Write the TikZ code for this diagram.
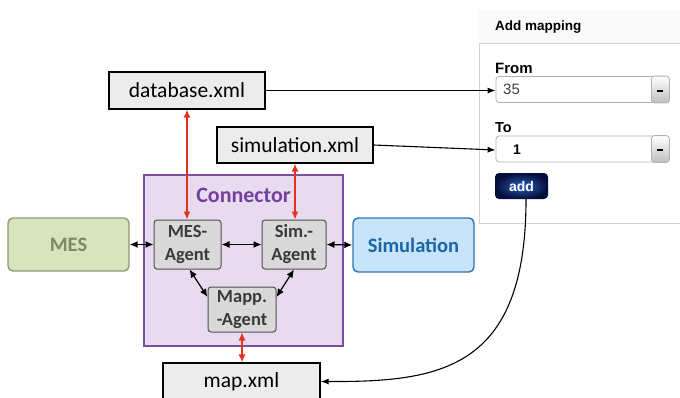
\documentclass[tikz,border=0pt]{standalone}
\usepackage{fontspec}
\setmainfont{Carlito}
\newfontfamily\uifont{Liberation Sans}
\usetikzlibrary{arrows.meta}
\definecolor{xmlfill}{HTML}{ECECEC}
\definecolor{connfill}{HTML}{E8DBF0}
\definecolor{conndraw}{HTML}{7D4E9F}
\definecolor{conntext}{HTML}{7440A0}
\definecolor{agentfill}{HTML}{D9D9D9}
\definecolor{agentdraw}{HTML}{505050}
\definecolor{agenttext}{HTML}{3A3A3A}
\definecolor{mesfill}{HTML}{D7E4BD}
\definecolor{mesdraw}{HTML}{8D9B70}
\definecolor{mestext}{HTML}{7A8A62}
\definecolor{simfill}{HTML}{C7E4F8}
\definecolor{simdraw}{HTML}{2E75B6}
\definecolor{simtext}{HTML}{1B66A8}
\definecolor{linkred}{HTML}{E5321F}
\definecolor{panelgray}{HTML}{D2D2D2}
\definecolor{boxgray}{HTML}{B0B0B0}
\definecolor{addlight}{HTML}{2B5FB8}
\definecolor{adddark}{HTML}{040E3A}
\tikzset{
  xmlfile/.style={draw=black, line width=1.3pt, fill=xmlfill, inner sep=0pt, minimum width=156pt, minimum height=37pt, font=\fontsize{21.5}{24}\selectfont},
  agent/.style={draw=agentdraw, line width=1pt, fill=agentfill, rounded corners=3pt, inner sep=0pt, align=center, text=agenttext, font=\bfseries\fontsize{18.5}{23}\selectfont},
  system/.style={line width=1.4pt, rounded corners=5pt, inner sep=0pt, minimum width=121pt, minimum height=54pt, font=\bfseries\fontsize{20.5}{24}\selectfont},
  link/.style={{Latex[length=8pt,width=7pt]}-{Latex[length=8pt,width=7pt]}, line width=1.2pt},
  redlink/.style={link, draw=linkred},
  feed/.style={-{Latex[length=8pt,width=6pt]}, line width=1.1pt},
  dropdown/.style={draw=boxgray, line width=0.8pt, fill=white, rounded corners=3pt, inner sep=0pt, minimum width=173pt, minimum height=26pt},
  uilabel/.style={font=\uifont\bfseries\fontsize{14.5}{16}\selectfont, anchor=west, inner sep=0pt}
}

\begin{document}
\begin{tikzpicture}[x=1pt, y=-1pt]
  \useasboundingbox (0,0) rectangle (680,397);
  \clip (0,0) rectangle (680,397);

  % connector frame
  \node[draw=conndraw, line width=1.5pt, fill=connfill, inner sep=0pt, minimum width=199pt, minimum height=171pt] (conn) at (243.5,260.5) {};
  \node[text=conntext, font=\bfseries\fontsize{22}{24}\selectfont] (connlabel) at (243.5,195) {Connector};

  % agents
  \node[agent, minimum width=67pt, minimum height=49pt] (mesag) at (187.5,244.5) {MES-\\Agent};
  \node[agent, minimum width=64pt, minimum height=49pt] (simag) at (294,244.5) {Sim.-\\Agent};
  \node[agent, minimum width=68pt, minimum height=45pt] (mapag) at (242,309.5) {Mapp.\\-Agent};

  % systems
  \node[system, draw=mesdraw, fill=mesfill, text=mestext, minimum height=53pt] (mes) at (68.5,244.5) {MES};
  \node[system, draw=simdraw, fill=simfill, text=simtext] (sim) at (413.5,245) {Simulation};

  % xml files
  \node[xmlfile] (db) at (187,90.5) {database.xml};
  \node[xmlfile, minimum height=36pt] (simxml) at (295,145) {simulation.xml};
  \node[xmlfile, minimum width=157pt] (mapxml) at (241.5,381.5) {map.xml};

  % mapping panel
  \draw[draw=panelgray, line width=0.8pt, fill=white] (479,10) rectangle (690,223);
  \fill[black!2] (479.4,10.4) rectangle (689,43);
  \draw[draw=panelgray, line width=0.6pt] (479,43) -- (690,43);
  \node[uilabel, font=\uifont\bfseries\fontsize{13.5}{16}\selectfont] (title) at (495,27) {Add mapping};
  \node[uilabel, font=\uifont\bfseries\fontsize{15}{16}\selectfont] (fromlabel) at (495,68) {From};
  \node[dropdown] (from) at (582.5,89.5) {};
  \node[uilabel, font=\uifont\fontsize{15}{16}\selectfont, text=black!75] (fromval) at (503,89.5) {35};
  \node[uilabel] (tolabel) at (495,128) {To};
  \node[dropdown] (to) at (582.5,149) {};
  \node[uilabel, font=\uifont\bfseries\fontsize{14}{16}\selectfont] (toval) at (513,149.5) {1};
  \foreach \dd in {from,to} {
    \path[top color=white, bottom color=black!25, draw=boxgray, line width=0.8pt, rounded corners=3pt]
      ([xshift=-18pt]\dd.north east) -- (\dd.north east) -- (\dd.south east) -- ([xshift=-18pt]\dd.south east) -- cycle;
    \fill ([xshift=-12pt,yshift=-2pt]\dd.east) rectangle ([xshift=-6pt,yshift=0pt]\dd.east);
  }
  \node[rounded corners=4pt, inner color=addlight, outer color=adddark, minimum width=53pt, minimum height=26pt, inner sep=0pt, text=white, font=\uifont\bfseries\fontsize{14}{16}\selectfont] (add) at (521.5,186) {add};

  % connections
  \draw[link] (mes.east) -- (mesag.west);
  \draw[link] (mesag.east) -- (simag.west);
  \draw[link] (simag.east) -- (sim.west);
  \draw[link] ([xshift=2pt]mesag.south) -- (mapag.160);
  \draw[link] ([xshift=0pt]simag.south) -- (mapag.20);
  \draw[redlink] (db.south) -- (db.south |- mesag.north);
  \draw[redlink] (simxml.south) -- (simxml.south |- simag.north);
  \draw[redlink] (mapag.south) -- (mapag.south |- mapxml.north);
  \draw[feed] (db.east) -- (db.east -| from.west);
  \draw[feed] (simxml.east) -- ([yshift=-1pt]to.west);
  \draw[feed] ([xshift=4.5pt]add.south) .. controls (526,370) and (440,382) .. (mapxml.east);
\end{tikzpicture}
\end{document}
